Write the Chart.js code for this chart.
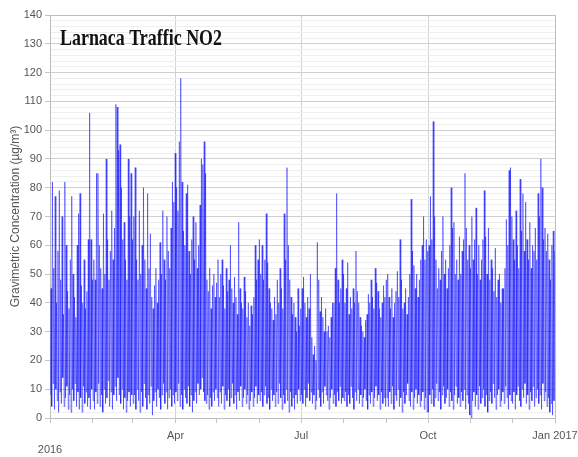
<!DOCTYPE html>
<html>
<head>
<meta charset="utf-8">
<script src="https://cdn.jsdelivr.net/npm/chart.js@4.4.1/dist/chart.umd.min.js"></script>
<style>
  html, body { margin: 0; padding: 0; background: #fff; }
</style>
</head>
<body>
<canvas id="no2Chart" width="578" height="457"></canvas>
<script>
// daily highest and lowest hourly NO2 (µg/m³), one row per month
const dailyHigh = [
  45,82,52,77,40,58,79,48,70,36,82,60,44,38,55,77,50,42,35,60,71,78,46,40,55,38,44,62,106,62,48, // Jan
  55,48,85,85,60,52,45,71,50,90,62,48,58,72,55,66,109,108,93,95,80,62,68,55,48,90,70,85,62,        // Feb
  70,87,55,48,72,50,60,80,55,45,78,52,64,42,38,46,52,40,48,61,50,72,55,48,70,58,52,66,82,75,92,   // Mar
  80,72,96,118,82,65,60,78,81,58,50,62,70,55,68,52,60,74,90,88,96,85,48,44,52,38,46,50,42,47,     // Apr
  55,42,50,55,46,38,52,44,48,60,45,40,49,42,36,68,45,40,38,49,44,35,40,32,39,36,42,60,48,55,62,   // May
  50,60,48,55,71,54,45,40,38,34,42,36,48,40,52,45,38,71,55,87,60,48,42,36,40,35,30,45,32,38,      // Jun
  45,49,40,35,42,38,50,28,22,25,20,61,48,37,42,35,30,38,30,32,28,35,40,40,52,78,48,40,45,55,50,   // Jul
  40,45,54,36,42,38,45,40,58,44,40,35,32,30,28,34,36,43,40,48,42,38,52,47,44,38,35,40,46,42,48,   // Aug
  50,42,38,45,35,40,44,51,42,62,48,38,40,45,36,42,50,76,58,53,45,50,42,48,55,60,70,55,62,58,      // Sep
  60,77,62,103,70,55,45,52,48,58,70,50,55,45,52,60,80,66,68,50,55,48,63,50,58,62,85,66,55,60,52,  // Oct
  70,55,62,73,50,60,48,55,62,79,63,50,66,48,55,52,44,59,42,48,50,40,45,45,52,69,60,86,87,70,      // Nov
  62,55,72,60,52,83,65,78,58,75,62,55,68,52,60,58,66,55,78,70,90,80,62,66,58,64,55,48,60,65,58    // Dec
];
const dailyLow = [
  8,4,12,3,10,6,2,9,5,14,4,7,11,3,8,2,10,6,12,4,9,3,7,2,11,5,9,4,7,3,10,
  6,3,9,5,12,4,8,2,10,5,7,13,4,9,3,8,11,6,14,8,5,10,3,7,2,6,9,4,8,
  5,8,3,10,6,2,9,4,12,7,3,8,5,11,1,6,9,4,10,7,3,8,12,5,9,3,7,10,4,8,5,
  9,6,12,4,8,3,10,7,5,11,4,8,2,6,9,5,12,8,10,14,9,6,5,8,3,7,4,9,6,10,
  7,4,9,5,11,3,8,6,10,4,7,12,5,8,3,9,6,11,4,7,10,5,8,3,6,9,4,7,11,5,8,
  6,9,4,8,11,5,7,3,10,6,8,4,9,5,12,7,3,8,5,10,6,2,9,4,7,3,8,5,10,6,
  8,5,10,4,7,12,6,9,5,8,3,6,10,7,4,9,5,11,8,6,3,7,10,5,8,4,9,6,11,5,7,
  6,9,4,8,5,11,7,3,9,6,10,5,8,4,7,10,6,3,8,5,9,4,7,11,6,8,3,9,5,7,4,
  7,4,9,5,11,3,8,6,10,4,7,2,9,5,8,12,6,4,9,3,7,10,5,8,4,6,9,3,7,2,
  2,8,5,10,4,7,12,6,9,3,8,11,5,7,10,4,9,6,3,8,11,5,7,4,9,6,10,3,8,5,1,
  0,6,9,4,8,3,11,5,7,10,4,8,2,6,9,5,12,7,3,8,10,4,6,9,5,11,7,3,8,6,
  5,9,3,8,11,6,4,10,7,12,5,8,3,9,6,11,4,7,10,5,8,3,12,6,9,4,7,2,5,1,6
];

// day of year where each month starts, and which of them carry a label
const monthStarts = [0, 31, 60, 91, 121, 152, 182, 213, 244, 274, 305, 335, 366];
const xLabels = { 0: ['', '2016'], 91: 'Apr', 182: 'Jul', 274: 'Oct', 366: 'Jan 2017' };

const chartTitle = 'Larnaca Traffic NO2';
const yTitle = 'Gravimetric Concentration (µg/m³)';

// low in the night, peak in the day
const points = [];
dailyHigh.forEach((high, day) => {
    points.push({ x: day + 0.25, y: dailyLow[day] });
    points.push({ x: day + 0.75, y: high });
});

const labelFont = { family: 'Liberation Sans', size: 11, lineHeight: 1.3 };

const framePlugin = {
    id: 'frame',
    afterDatasetsDraw(chart) {
        const { ctx, chartArea: a } = chart;
        ctx.save();
        ctx.strokeStyle = '#bdbdbd';
        ctx.lineWidth = 1;
        ctx.beginPath();
        ctx.moveTo(a.left, a.top + 0.5);
        ctx.lineTo(a.right + 0.5, a.top + 0.5);
        ctx.lineTo(a.right + 0.5, a.bottom);
        ctx.stroke();

        // title sits inside the plot, top left
        ctx.font = 'bold 23px "Liberation Serif"';
        ctx.fillStyle = '#111';
        ctx.textBaseline = 'alphabetic';
        const w = ctx.measureText(chartTitle).width;
        ctx.translate(a.left + 10, 45);
        ctx.scale(162 / w, 1);
        ctx.fillText(chartTitle, 0, 0);
        ctx.restore();
    }
};

new Chart(document.getElementById('no2Chart').getContext('2d'), {
    type: 'line',
    data: {
        datasets: [{
            data: points,
            borderColor: 'rgba(0, 0, 255, 0.45)',
            borderWidth: 1,
            pointRadius: 0,
            tension: 0,
            fill: false,
            // alternate the colour by a hair so each stroke is drawn on its own and overlaps build up
            segment: {
                borderColor: (s) => s.p0DataIndex % 2 ? 'rgba(0, 0, 255, 0.45)' : 'rgba(0, 0, 254, 0.45)'
            }
        }]
    },
    options: {
        responsive: false,
        animation: false,
        layout: { padding: { top: 15, right: 0, left: 0, bottom: 0 } },
        plugins: {
            legend: { display: false },
            tooltip: { enabled: false }
        },
        scales: {
            x: {
                type: 'linear',
                min: 0,
                max: 366,
                afterBuildTicks: (scale) => {
                    scale.ticks = monthStarts.map(v => ({ value: v }));
                },
                afterFit: (scale) => {
                    scale.height = 39;
                    scale.paddingRight = 23;
                },
                ticks: {
                    autoSkip: false,
                    maxRotation: 0,
                    padding: 6,
                    color: '#555',
                    font: labelFont,
                    callback: (v) => xLabels[v] !== undefined ? xLabels[v] : ''
                },
                grid: {
                    color: (c) => [91, 182, 274].includes(c.tick && c.tick.value) ? '#d2d2d2' : 'rgba(0,0,0,0)',
                    tickColor: '#c4c4c4',
                    tickLength: 5
                },
                border: { color: '#bdbdbd' }
            },
            y: {
                min: 0,
                max: 140,
                afterBuildTicks: (scale) => {
                    const t = [];
                    for (let v = 0; v <= 140; v += 2) t.push({ value: v });
                    scale.ticks = t;
                },
                afterFit: (scale) => { scale.width = 50; },
                ticks: {
                    autoSkip: false,
                    padding: 3,
                    color: '#555',
                    font: { family: 'Liberation Sans', size: 11 },
                    callback: (v) => v % 10 === 0 ? v : ''
                },
                grid: {
                    color: (c) => c.tick && c.tick.value % 10 === 0 ? '#d0d0d0' : '#eeeeee',
                    tickColor: (c) => c.tick && c.tick.value % 10 === 0 ? '#c4c4c4' : 'rgba(0,0,0,0)',
                    tickLength: 5
                },
                border: { color: '#bdbdbd' },
                title: {
                    display: true,
                    text: yTitle,
                    color: '#555',
                    font: { family: 'Liberation Sans', size: 12 },
                    padding: { top: 8, bottom: 0 }
                }
            }
        }
    },
    plugins: [framePlugin]
});
</script>
</body>
</html>
